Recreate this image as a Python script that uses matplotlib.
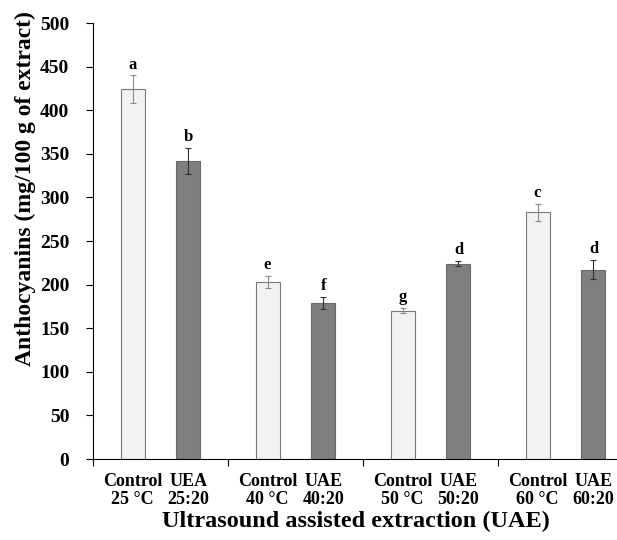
import numpy as np
import matplotlib.pyplot as plt

groups = ["25", "40", "50", "60"]
control_labels = ["Control\n25 \u00b0C", "Control\n40 \u00b0C", "Control\n50 \u00b0C", "Control\n60 \u00b0C"]
uae_labels = ["UEA\n25:20", "UAE\n40:20", "UAE\n50:20", "UAE\n60:20"]
control_vals = [424, 203, 170, 283]
control_err = [16, 7, 3, 10]
uae_vals = [342, 179, 224, 217]
uae_err = [15, 6.5, 3, 11]
control_letters = ["a", "e", "g", "c"]
uae_letters = ["b", "f", "d", "d"]

plt.rcParams['font.family'] = ['Liberation Serif', 'DejaVu Serif']
plt.rcParams['font.weight'] = 'bold'

fig = plt.figure(figsize=(6.17, 5.4), dpi=100)
ax = fig.add_axes([93 / 617, 81 / 540, 540 / 617, 436 / 540])

x = np.arange(len(groups))
off = 0.207
w = 0.178

ax.bar(x - off, control_vals, w, color='#f2f2f2', edgecolor='#7a7a7a', linewidth=0.8, zorder=2)
ax.bar(x + off, uae_vals, w, color='#7f7f7f', edgecolor='#6a6a6a', linewidth=0.8, zorder=2)
ax.errorbar(x - off, control_vals, yerr=control_err, fmt='none', ecolor='#8a8a8a',
            elinewidth=0.8, capsize=2, capthick=0.8, zorder=3)
ax.errorbar(x + off, uae_vals, yerr=uae_err, fmt='none', ecolor='#303030',
            elinewidth=0.8, capsize=2, capthick=0.8, zorder=3)

for xi, v, e, t in zip(x - off, control_vals, control_err, control_letters):
    ax.annotate(t, (xi, v + e), xytext=(0, 2), textcoords='offset points',
                ha='center', va='bottom', fontsize=12, fontweight='bold')
for xi, v, e, t in zip(x + off, uae_vals, uae_err, uae_letters):
    ax.annotate(t, (xi, v + e), xytext=(0, 2), textcoords='offset points',
                ha='center', va='bottom', fontsize=12, fontweight='bold')

ax.set_xlim(-0.5, 3.5)
ax.set_ylim(0, 500)
ax.set_yticks(np.arange(0, 501, 50))
ax.tick_params(axis='y', labelsize=14, length=5, width=0.8, direction='out', pad=12)

pos = np.concatenate([x - off, x + off])
labs = control_labels + uae_labels
ax.set_xticks(pos)
ax.set_xticklabels(labs, fontsize=13, fontweight='bold', linespacing=1.05)
ax.tick_params(axis='x', which='major', length=0, pad=10)
ax.set_xticks(np.arange(-0.5, 3.6, 1), minor=True)
ax.tick_params(axis='x', which='minor', length=5, width=0.8, direction='out')

for s in ['top', 'right']:
    ax.spines[s].set_visible(False)
for s in ['left', 'bottom']:
    ax.spines[s].set_linewidth(0.8)

ax.set_ylabel("Anthocyanins (mg/100 g of extract)", fontsize=17, fontweight='bold')
ax.yaxis.set_label_coords(-0.105, 0.62)
ax.set_xlabel("Ultrasound assisted extraction (UAE)", fontsize=17.5, fontweight='bold')
ax.xaxis.set_label_coords(0.487, -0.12)

fig.savefig("out.png", dpi=100)
